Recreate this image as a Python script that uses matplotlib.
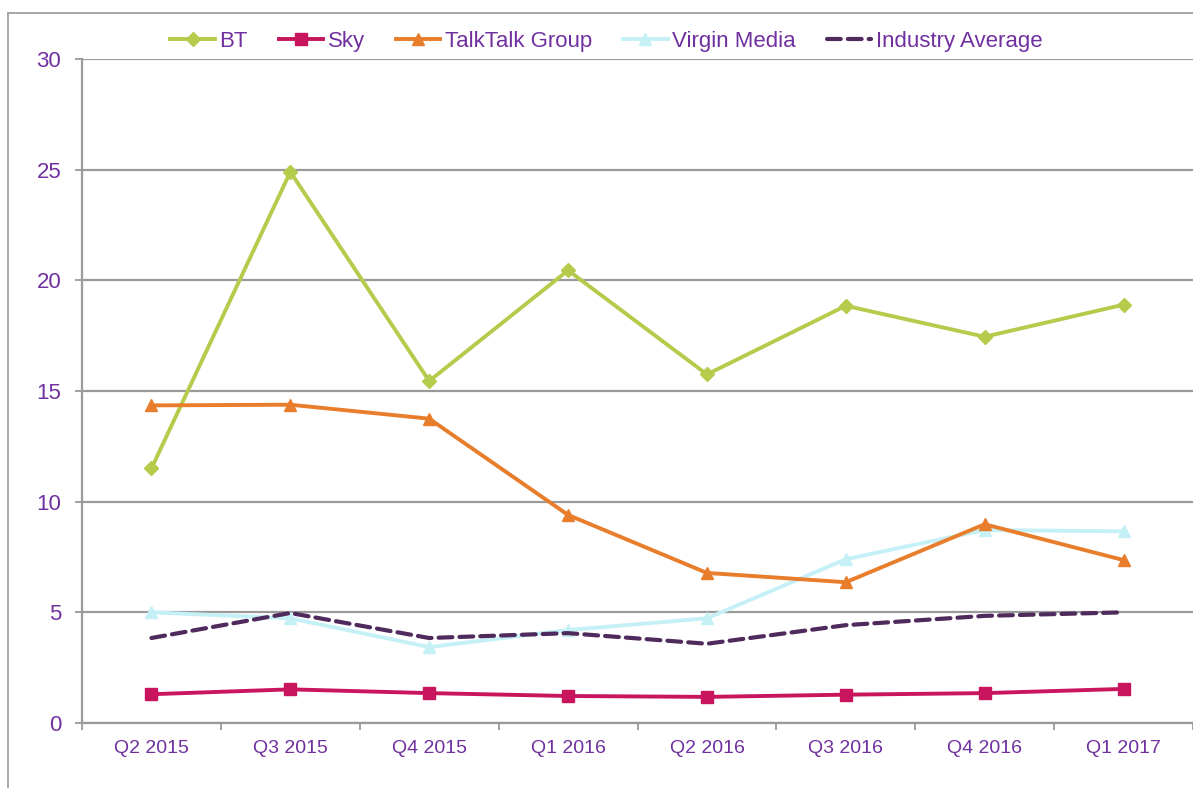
import matplotlib
matplotlib.use("Agg")
import matplotlib.pyplot as plt
from matplotlib.lines import Line2D

quarters = ["Q2 2015", "Q3 2015", "Q4 2015", "Q1 2016", "Q2 2016", "Q3 2016", "Q4 2016", "Q1 2017"]
bt = [11.5, 24.9, 15.45, 20.45, 15.75, 18.85, 17.45, 18.9]
sky = [1.3, 1.52, 1.35, 1.22, 1.18, 1.28, 1.35, 1.54]
talktalk = [14.35, 14.38, 13.75, 9.4, 6.78, 6.36, 8.98, 7.36]
virgin = [5.0, 4.73, 3.43, 4.2, 4.73, 7.4, 8.72, 8.66]
industry = [3.84, 4.97, 3.84, 4.06, 3.58, 4.42, 4.84, 5.0]

TEXT = "#7030A0"
GRID = "#9a9a9a"

plt.rcParams["font.family"] = ["Liberation Sans", "DejaVu Sans"]

W, H = 1193, 788
fig = plt.figure(figsize=(W / 100, H / 100), dpi=100)
ax = fig.add_axes([82 / W, (H - 723) / H, (W - 82) / W, (723 - 59) / H])

x = list(range(len(quarters)))
ax.plot(x, bt, color="#B4CB4C", lw=2.8, marker="D", ms=7.5, label="BT", zorder=4)
ax.plot(x, sky, color="#C8155E", lw=2.8, marker="s", ms=9, label="Sky", zorder=4)
ax.plot(x, talktalk, color="#E87D2C", lw=2.8, marker="^", ms=9, label="TalkTalk Group", zorder=4)
ax.plot(x, virgin, color="#C5F1F6", lw=2.8, marker="^", ms=9, label="Virgin Media", zorder=3)
ax.plot(x, industry, color="#4F2A5C", lw=3, ls=(0, (3.3, 1.7)), dash_capstyle="round",
        label="Industry Average", zorder=3)

ax.set_xlim(-0.5, (W - 82) / 139.7 - 0.5)
ax.set_ylim(0, 30)
ax.set_yticks(range(0, 31, 5))
ax.set_xticks(x)
ax.set_xticklabels(quarters)
ax.set_xticks([i - 0.5 for i in range(len(quarters) + 1)], minor=True)

ax.grid(axis="y", color=GRID, lw=1.6, zorder=0)
ax.set_axisbelow(True)
for side in ("top", "right"):
    ax.spines[side].set_visible(False)
for side in ("left", "bottom"):
    ax.spines[side].set_color(GRID)
    ax.spines[side].set_linewidth(1.6)

ax.tick_params(axis="y", length=5, width=1.3, color=GRID, labelsize=16, labelcolor=TEXT, pad=10)
ax.tick_params(axis="x", which="major", length=0, labelsize=14, labelcolor=TEXT, pad=12)
ax.tick_params(axis="x", which="minor", length=5, width=1.3, color=GRID)

leg = ax.legend(loc="center", bbox_to_anchor=(0.472, 1.027), ncol=5, frameon=False,
                fontsize=16, handlelength=2.0, handletextpad=0.2, columnspacing=1.4,
                markerscale=0.9)
for t in leg.get_texts():
    t.set_color(TEXT)

# outer chart border (top and left edge)
fig.add_artist(Line2D([8 / W, 1], [1 - 13 / H, 1 - 13 / H], color="#a0a0a0", lw=1.3))
fig.add_artist(Line2D([8 / W, 8 / W], [0, 1 - 13 / H], color="#a0a0a0", lw=1.3))

fig.savefig("out.png", dpi=100)
